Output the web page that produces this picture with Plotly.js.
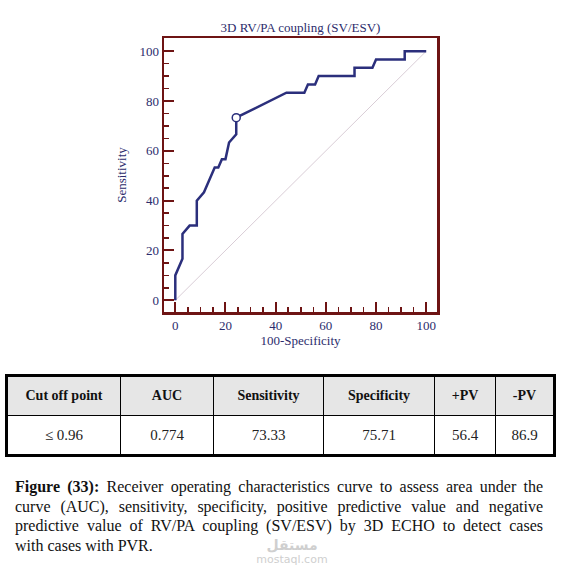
<!DOCTYPE html>
<html>
<head>
<meta charset="utf-8">
<script src="https://cdn.plot.ly/plotly-3.0.1.min.js"></script>
<style>
  html, body { margin:0; padding:0; background:#fff; width:584px; height:569px; overflow:hidden; }
  #chart { position:absolute; left:0; top:0; width:584px; height:360px; }
  table.res { position:absolute; left:5px; top:374px; width:548px; border-collapse:collapse; border:3px solid #000; font-family:"Liberation Serif", "Times New Roman", serif; table-layout:fixed; }
  table.res th, table.res td { border:1px solid #000; text-align:center; padding:0; }
  table.res th { background:#e6e6e6; font-weight:bold; font-size:14px; height:38px; color:#111; }
  table.res td { font-size:15px; height:38px; color:#222; }
  #caption { position:absolute; left:15px; top:477px; width:528px; font-family:"Liberation Serif", "Times New Roman", serif; font-size:16px; line-height:19.5px; color:#111; }
  #caption .ln { text-align:justify; text-align-last:justify; white-space:nowrap; }
  #caption .ln.last { text-align:left; text-align-last:left; }
  #wm { position:absolute; left:252px; top:537px; width:80px; text-align:center; color:#cfcfcf; font-family:"DejaVu Sans", sans-serif; }
  #wm .ar { font-size:14px; font-weight:bold; line-height:16px; }
  #wm .en { font-size:11px; line-height:13px; }
</style>
</head>
<body>
<div id="chart"></div>
<table class="res" id="tbl"></table>
<div id="wm"><div class="ar">مستقل</div><div class="en">mostaql.com</div></div>
<div id="caption"></div>
<script>
// ROC curve: 100-Specificity (x) and Sensitivity (y)
const fpr = [0, 0, 2.86, 2.86, 5.71, 8.57, 8.57, 11.43, 12.86, 15.71, 17.14, 18.57, 20, 21.43, 24.29, 24.29, 44.29, 51.43, 52.86, 55.71, 57.14, 71.43, 71.43, 78.57, 80, 91.43, 91.43, 100];
const tpr = [0, 10, 16.67, 26.67, 30, 30, 40, 43.33, 46.67, 53.33, 53.33, 56.67, 56.67, 63.33, 66.67, 73.33, 83.33, 83.33, 86.67, 86.67, 90, 90, 93.33, 93.33, 96.67, 96.67, 100, 100];
const refX = [0, 100];
const refY = [0, 100];
const cutX = [24.29];
const cutY = [73.33];
const tickVals = [0, 20, 40, 60, 80, 100];

// Table
const tableHeaders = ["Cut off point", "AUC", "Sensitivity", "Specificity", "+PV", "-PV"];
const tableValues = ["\u2264 0.96", "0.774", "73.33", "75.71", "56.4", "86.9"];
const colWidths = [114, 93, 110, 111, 61, 59];

// Caption lines
const captionLabel = "Figure (33):";
const captionLines = [
  " Receiver operating characteristics curve to assess area under the",
  "curve (AUC), sensitivity, specificity, positive predictive value and negative",
  "predictive value of RV/PA coupling (SV/ESV) by 3D ECHO to detect cases",
  "with cases with PVR."
];

const tbl = document.getElementById('tbl');
const cg = document.createElement('colgroup');
colWidths.forEach(w => { const c = document.createElement('col'); c.style.width = w + 'px'; cg.appendChild(c); });
tbl.appendChild(cg);
const trh = document.createElement('tr');
tableHeaders.forEach(h => { const th = document.createElement('th'); th.textContent = h; trh.appendChild(th); });
tbl.appendChild(trh);
const trb = document.createElement('tr');
tableValues.forEach(v => { const td = document.createElement('td'); td.textContent = v; trb.appendChild(td); });
tbl.appendChild(trb);

const cap = document.getElementById('caption');
captionLines.forEach((t, i) => {
  const d = document.createElement('div');
  d.className = 'ln' + (i === captionLines.length - 1 ? ' last' : '');
  if (i === 0) {
    const b = document.createElement('b');
    b.textContent = captionLabel;
    d.appendChild(b);
  }
  d.appendChild(document.createTextNode(t));
  cap.appendChild(d);
});

const axisCol = '#6e1414';
const textCol = '#2c2c6c';
const fontFam = '"Liberation Serif", "Times New Roman", serif';

const traces = [
  { x: refX, y: refY, mode: 'lines', line: { color: '#d9cdd6', width: 1 }, hoverinfo: 'skip', showlegend: false },
  { x: fpr, y: tpr, mode: 'lines', line: { color: '#2b2f7c', width: 2.5 }, showlegend: false },
  { x: cutX, y: cutY, mode: 'markers', marker: { color: '#ffffff', size: 8, line: { color: '#2b2f7c', width: 1.5 } }, showlegend: false }
];

function axis(range, title, standoff) {
  return {
    range: range, tickmode: 'array', tickvals: tickVals,
    ticks: 'inside', ticklen: 10, tickwidth: 2, tickcolor: axisCol,
    minor: { dtick: 5, tick0: 0, ticks: 'inside', ticklen: 5, tickwidth: 1.5, tickcolor: axisCol, showgrid: false },
    showline: true, linecolor: axisCol, linewidth: 2.5, mirror: true,
    showgrid: false, zeroline: false, fixedrange: true,
    tickfont: { family: fontFam, size: 13, color: textCol },
    title: { text: title, font: { family: fontFam, size: 13, color: textCol }, standoff: standoff }
  };
}

const layout = {
  width: 584, height: 360,
  margin: { l: 164, r: 147, t: 38, b: 48 },
  paper_bgcolor: '#ffffff', plot_bgcolor: '#ffffff',
  title: { text: '3D RV/PA coupling (SV/ESV)', font: { family: fontFam, size: 13, color: textCol }, x: 0.5145, xanchor: 'center', y: 1 - 27/360, yanchor: 'middle' },
  xaxis: axis([-4.5, 104.3], '100-Specificity', 4),
  yaxis: axis([-4.7, 105.3], 'Sensitivity', 10),
  showlegend: false
};

Plotly.newPlot('chart', traces, layout, { displayModeBar: false, staticPlot: true });
</script>
</body>
</html>
